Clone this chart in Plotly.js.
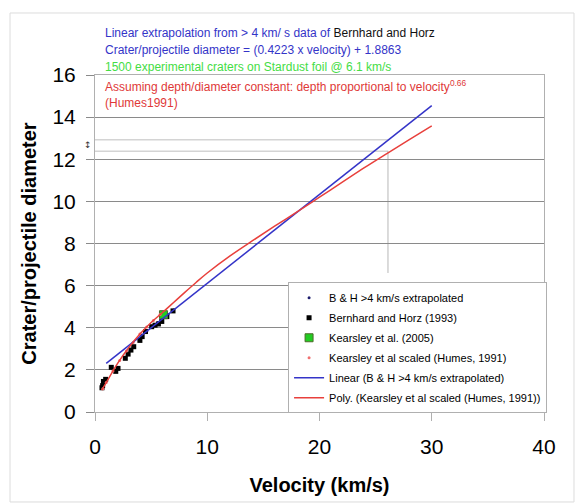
<!DOCTYPE html>
<html>
<head>
<meta charset="utf-8">
<script src="https://cdn.plot.ly/plotly-3.0.1.min.js"></script>
<style>html,body{margin:0;padding:0;background:#fff;}#chart{width:575px;height:503px;}</style>
</head>
<body>
<div id="chart"></div>
<script>
// Bernhard and Horz (1993) data
const bhVel = [0.62, 0.68, 0.75, 0.95, 1.45, 1.85, 2.05, 2.7, 2.95, 3.2, 3.45, 4.0, 4.2, 4.5, 5.05, 5.35, 5.65, 5.95, 6.4, 6.95];
const bhDia = [1.15, 1.25, 1.45, 1.55, 2.12, 1.93, 2.07, 2.55, 2.75, 2.94, 3.1, 3.4, 3.58, 3.82, 4.05, 4.12, 4.18, 4.3, 4.53, 4.8];
// B & H > 4 km/s extrapolated
const bhxVel = [4.2, 4.6, 5.1, 5.6, 6.0, 6.5, 7.0];
const bhxDia = [3.66, 3.83, 4.04, 4.25, 4.42, 4.63, 4.84];
// Kearsley et al. (2005)
const kVel = [6.1];
const kDia = [4.62];
// Kearsley et al scaled (Humes, 1991)
const ksVel = [0.7, 1.0, 1.6, 2.2, 2.8, 3.4, 4.0, 4.6, 5.2, 5.8];
const ksDia = [1.1, 1.4, 1.95, 2.45, 2.9, 3.3, 3.7, 4.03, 4.35, 4.63];
// Linear trend line (B & H >4 km/s extrapolated)
const linVel = [1, 30];
const linDia = [2.31, 14.55];
// Poly trend line (Kearsley et al scaled)
const polyVel = [0.6, 1, 2, 3, 4, 5, 6, 7, 8, 9, 10, 12, 14, 16, 18, 20, 22, 24, 26, 28, 30];
const polyDia = [1.04, 1.4, 2.3, 3.05, 3.7, 4.25, 4.72, 5.2, 5.68, 6.15, 6.6, 7.4, 8.12, 8.82, 9.5, 10.2, 10.9, 11.6, 12.27, 12.93, 13.58];
// ticks
const xTicks = [0, 10, 20, 30, 40];
const yTicks = [0, 2, 4, 6, 8, 10, 12, 14, 16];

const FONT = 'Liberation Sans, Arial, sans-serif';

const traces = [
  {x: bhxVel, y: bhxDia, mode: 'markers', type: 'scatter', name: 'B & H >4 km/s extrapolated',
   marker: {size: 3, color: '#1e1e6e'}, legendgroup: 'a'},
  {x: bhVel, y: bhDia, mode: 'markers', type: 'scatter', name: 'Bernhard and Horz (1993)',
   marker: {size: 5, symbol: 'square', color: '#000'}, legendgroup: 'b'},
  {x: kVel, y: kDia, mode: 'markers', type: 'scatter', name: 'Kearsley et al. (2005)',
   marker: {size: 8, symbol: 'square', color: '#22cc22', line: {color: '#4d6b2a', width: 1}}, legendgroup: 'c'},
  {x: ksVel, y: ksDia, mode: 'markers', type: 'scatter', name: 'Kearsley et al scaled (Humes, 1991)',
   marker: {size: 3, color: '#f07070'}, legendgroup: 'd'},
  {x: linVel, y: linDia, mode: 'lines', type: 'scatter', name: 'Linear (B & H >4 km/s extrapolated)',
   line: {color: '#3434c8', width: 1.5}, legendgroup: 'e'},
  {x: polyVel, y: polyDia, mode: 'lines', type: 'scatter', name: 'Poly. (Kearsley et al scaled (Humes, 1991))',
   line: {color: '#e8403c', width: 1.5, shape: 'spline'}, legendgroup: 'f'}
];

const layout = {
  width: 575, height: 503,
  margin: {l: 95, r: 31, t: 75, b: 91},
  paper_bgcolor: '#fff', plot_bgcolor: '#fff',
  font: {family: FONT, color: '#000'},
  showlegend: true,
  legend: {x: 0.43, y: 0.385, xanchor: 'left', yanchor: 'top', bgcolor: '#fff',
           bordercolor: '#b0b0b0', borderwidth: 1, font: {family: FONT, size: 11, color: '#000'},
           tracegroupgap: 1, itemwidth: 30},
  xaxis: {range: [0, 40], tickvals: xTicks, ticktext: xTicks.map(String), showgrid: false, zeroline: false,
          showline: true, mirror: true, linecolor: '#b0b0b0', ticks: 'outside', ticklen: 8, tickcolor: '#b0b0b0',
          tickfont: {family: FONT, size: 21, color: '#000'}, ticklabelstandoff: 8,
          title: {text: '<b>Velocity (km/s)</b>', font: {family: FONT, size: 20, color: '#000'}, standoff: 20},
          automargin: false, fixedrange: true},
  yaxis: {range: [0, 16], tickvals: yTicks, ticktext: yTicks.map(String), showgrid: true, gridcolor: '#8a8a8a', gridwidth: 1,
          zeroline: false, showline: true, mirror: true, linecolor: '#b0b0b0', ticks: 'outside', ticklen: 8, tickcolor: '#8a8a8a',
          tickfont: {family: FONT, size: 21, color: '#000'}, ticklabelstandoff: 6,
          title: {text: '<b>Crater/projectile diameter</b>', font: {family: FONT, size: 20, color: '#000'}, standoff: 10},
          automargin: false, fixedrange: true},
  shapes: [
    {type: 'rect', xref: 'paper', yref: 'paper', x0: -0.1893, x1: 1.0668, y0: -0.267, y1: 1.184,
     line: {color: '#dcdcdc', width: 1}, layer: 'below'},
    {type: 'line', xref: 'x', yref: 'y', x0: 0, x1: 26.1, y0: 12.92, y1: 12.92, line: {color: '#d4d4d4', width: 1.5}, layer: 'below'},
    {type: 'line', xref: 'x', yref: 'y', x0: 0, x1: 26.1, y0: 12.38, y1: 12.38, line: {color: '#d4d4d4', width: 1.5}, layer: 'below'},
    {type: 'line', xref: 'x', yref: 'y', x0: 26.1, x1: 26.1, y0: 6.6, y1: 12.4, line: {color: '#b8b8b8', width: 1}, layer: 'below'}
  ],
  annotations: [
    {xref: 'paper', yref: 'paper', x: 0.018, y: 1.1246, xanchor: 'left', yanchor: 'middle', showarrow: false,
     text: 'Linear extrapolation from > 4 km/ s data of <span style="color:#111">Bernhard and Horz</span>',
     font: {family: FONT, size: 12, color: '#3434c8'}},
    {xref: 'paper', yref: 'paper', x: 0.018, y: 1.0742, xanchor: 'left', yanchor: 'middle', showarrow: false,
     text: 'Crater/projectile diameter = (0.4223 x velocity) + 1.8863',
     font: {family: FONT, size: 12, color: '#3434c8'}},
    {xref: 'paper', yref: 'paper', x: 0.018, y: 1.0246, xanchor: 'left', yanchor: 'middle', showarrow: false,
     text: '1500 experimental craters on Stardust foil @ 6.1 km/s',
     font: {family: FONT, size: 12, color: '#44dd44'}},
    {xref: 'paper', yref: 'paper', x: 0.018, y: 0.966, xanchor: 'left', yanchor: 'middle', showarrow: false,
     text: 'Assuming depth/diameter constant: depth proportional to velocity<sup>0.66</sup>',
     font: {family: FONT, size: 12, color: '#e03838'}},
    {xref: 'paper', yref: 'paper', x: 0.018, y: 0.9169, xanchor: 'left', yanchor: 'middle', showarrow: false,
     text: '(Humes1991)',
     font: {family: FONT, size: 12, color: '#e03838'}},
    {xref: 'paper', yref: 'paper', x: -0.0156, y: 0.792, xanchor: 'center', yanchor: 'middle', showarrow: false,
     text: '↕', font: {family: 'DejaVu Sans', size: 9, color: '#333'}}
  ]
};

Plotly.newPlot('chart', traces, layout, {staticPlot: true, displayModeBar: false});
</script>
</body>
</html>
